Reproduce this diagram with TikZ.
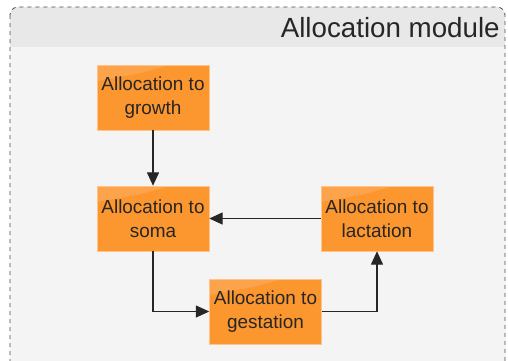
\documentclass[tikz,border=0pt]{standalone}
\usepackage{fontspec}
\setmainfont{Liberation Sans}
\usetikzlibrary{arrows.meta}
\definecolor{boxorange}{RGB}{252,150,46}
\definecolor{boxgloss}{RGB}{253,172,96}
\definecolor{boxedge}{RGB}{255,196,140}
\definecolor{headgray}{RGB}{232,232,232}
\definecolor{bodygray}{RGB}{244,244,244}
\tikzset{
  stagebox/.style={draw=boxedge, fill=boxorange, minimum width=84pt, minimum height=48.75pt,
    inner sep=0pt, align=center, font=\fontsize{14.2}{18}\selectfont, text=black!85,
    path picture={\fill[boxgloss, opacity=0.6]
      (path picture bounding box.north west) -- ([xshift=-30pt]path picture bounding box.north east)
      .. controls ([xshift=-50pt,yshift=-6pt]path picture bounding box.north east) .. ([yshift=-12pt]path picture bounding box.north west) -- cycle;}},
  flow/.style={draw=black!85, line width=0.8pt, -{Triangle[length=10pt,width=9pt]}}
}
\begin{document}
\begin{tikzpicture}[x=0.75pt,y=-0.75pt]
\useasboundingbox (0,0) rectangle (508,361);
\begin{scope}
\clip (0,0) rectangle (508,361);
% module frame: body, header band, dashed outline
\fill[bodygray, rounded corners=6pt] (10,7) rectangle (505,380);
\begin{scope}
\clip[rounded corners=6pt] (10,7) rectangle (505,380);
\fill[headgray] (10,7) rectangle (505,47);
\end{scope}
\draw[black!70, dashed, line width=0.6pt, rounded corners=6pt] (10,7) rectangle (505,380);
\end{scope}
\node[anchor=base east, font=\fontsize{20.8}{24}\selectfont, inner sep=0pt, text=black!85] (title) at (500,37) {Allocation module};

\node[stagebox] (growth) at (153,97.5) {Allocation to\\growth};
\node[stagebox] (soma) at (153,218.5) {Allocation to\\soma};
\node[stagebox] (lact) at (377,218.5) {Allocation to\\lactation};
\node[stagebox] (gest) at (265.5,311.5) {Allocation to\\gestation};

\draw[flow] (growth) -- (soma);
\draw[flow] (lact) -- (soma);
\draw[flow] (soma.south) |- (gest.west);
\draw[flow] (gest.east) -| (lact.south);
\end{tikzpicture}
\end{document}
